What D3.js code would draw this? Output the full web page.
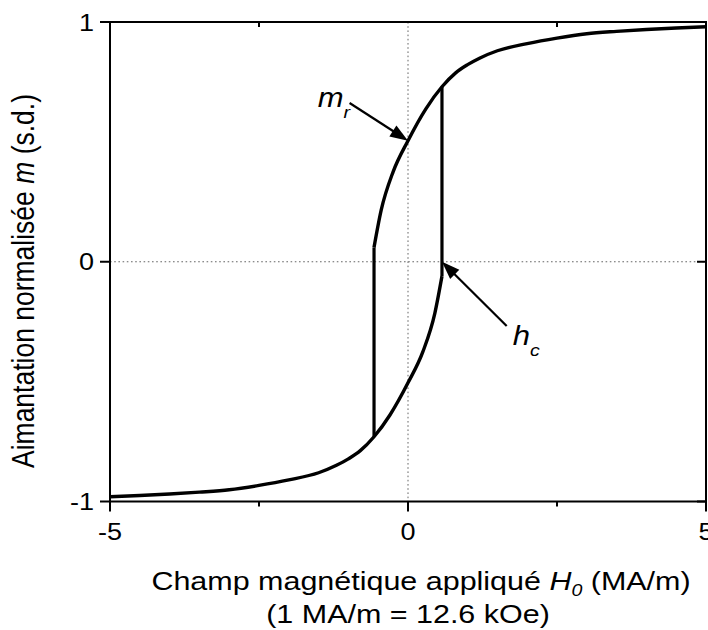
<!DOCTYPE html>
<html><head><meta charset="utf-8">
<script src="https://cdn.jsdelivr.net/npm/d3@7"></script>
<style>html,body{margin:0;padding:0;background:#fff;} svg{display:block;} text{font-family:"Liberation Sans",Arial,sans-serif;fill:#000;}</style>
</head><body>
<script>
// Descending branch (coming from +saturation)
const upperH = [5, 4.5, 4, 3.5, 3, 2.5, 2, 1.5, 1.2, 1.0, 0.8, 0.57, 0.3, 0, -0.25, -0.45, -0.57];
const upperM = [0.980, 0.975, 0.969, 0.961, 0.951, 0.933, 0.910, 0.880, 0.849, 0.822, 0.788, 0.730, 0.638, 0.505, 0.375, 0.215, 0.06];
// Ascending branch (coming from -saturation)
const lowerH = [-5, -4.5, -4, -3.5, -3, -2.5, -2, -1.5, -1.2, -1.0, -0.8, -0.57, -0.3, 0, 0.25, 0.45, 0.57];
const lowerM = [-0.980, -0.975, -0.969, -0.961, -0.951, -0.933, -0.910, -0.880, -0.849, -0.822, -0.788, -0.730, -0.638, -0.505, -0.375, -0.215, -0.06];
// Switching jumps
const jumpH = [-0.57, 0.57];
const jumpFrom = [0.06, -0.06];
const jumpTo = [-0.730, 0.730];
const xTicks = [-5, 0, 5];
const xMinor = [-2.5, 2.5];
const yTicks = [-1, 0, 1];
const annLabel = ["m", "h"];
const annSub = ["r", "c"];
const annTip = [[0, 0.505], [0.57, 0]];
const annTail = [[-0.98, 0.662], [1.656, -0.268]];
const annText = [[-1.515, 0.645], [1.757, -0.349]];

const W = 708, H = 630, SX = 1.15;
const svg = d3.select("body").append("svg").attr("width", W).attr("height", H);
const x = d3.scaleLinear().domain([-5, 5]).range([110, 706]);
const y = d3.scaleLinear().domain([-1, 1]).range([501.5, 22]);

function stext(g, px, py, anchor, size) {
  return g.append("text").attr("transform", `translate(${px},${py}) scale(${SX},1)`)
    .attr("text-anchor", anchor).attr("font-size", size);
}

// dotted zero lines
svg.append("line").attr("x1", x(0)).attr("x2", x(0)).attr("y1", y(1)).attr("y2", y(-1))
  .attr("stroke", "#666").attr("stroke-width", 1).attr("stroke-dasharray", "1.6,2.6");
svg.append("line").attr("x1", x(-5)).attr("x2", x(5)).attr("y1", y(0)).attr("y2", y(0))
  .attr("stroke", "#666").attr("stroke-width", 1).attr("stroke-dasharray", "1.6,2.6");

// curves
const line = d3.line().x(d => x(d[0])).y(d => y(d[1])).curve(d3.curveMonotoneX);
const up = upperH.map((h, i) => [h, upperM[i]]).reverse();
const lo = lowerH.map((h, i) => [h, lowerM[i]]);
[up, lo].forEach(d => svg.append("path").attr("d", line(d)).attr("fill", "none")
  .attr("stroke", "#000").attr("stroke-width", 3.4).attr("stroke-linejoin", "round"));
jumpH.forEach((h, i) => svg.append("line").attr("x1", x(h)).attr("x2", x(h))
  .attr("y1", y(jumpFrom[i])).attr("y2", y(jumpTo[i])).attr("stroke", "#000").attr("stroke-width", 3.2));

// frame
svg.append("rect").attr("x", x(-5)).attr("y", y(1)).attr("width", x(5) - x(-5)).attr("height", y(-1) - y(1))
  .attr("fill", "none").attr("stroke", "#000").attr("stroke-width", 2);

// ticks
const tk = svg.append("g").attr("stroke", "#000").attr("stroke-width", 2);
xTicks.forEach(t => tk.append("line").attr("x1", x(t)).attr("x2", x(t)).attr("y1", y(-1)).attr("y2", y(-1) + 10));
xMinor.forEach(t => {
  tk.append("line").attr("x1", x(t)).attr("x2", x(t)).attr("y1", y(-1)).attr("y2", y(-1) + 5);
  tk.append("line").attr("x1", x(t)).attr("x2", x(t)).attr("y1", y(1)).attr("y2", y(1) + 5);
});
yTicks.forEach(t => {
  tk.append("line").attr("x1", x(-5) - 10).attr("x2", x(-5)).attr("y1", y(t)).attr("y2", y(t));
  tk.append("line").attr("x1", x(5) - 9).attr("x2", x(5)).attr("y1", y(t)).attr("y2", y(t));
});

// tick labels
xTicks.forEach(t => stext(svg, x(t), 540, "middle", 23.5).text(d3.format("")(t).replace("−", "-")));
yTicks.forEach(t => stext(svg, 94, y(t) + 8.5, "end", 23.5).text(d3.format("")(t).replace("−", "-")));

// axis titles
const xt = stext(svg, 421, 590, "middle", 26.5);
xt.append("tspan").text("Champ magnétique appliqué ");
xt.append("tspan").attr("font-style", "italic").text("H");
xt.append("tspan").attr("font-style", "italic").attr("font-size", 17).attr("dy", 6).text("0");
xt.append("tspan").attr("dy", -6).text(" (MA/m)");
stext(svg, 408, 623, "middle", 26.5).text("(1 MA/m = 12.6 kOe)");

const yt = svg.append("text").attr("transform", `translate(33.5,281) scale(${SX},1) rotate(-90)`)
  .attr("text-anchor", "middle").attr("font-size", 26.5);
yt.append("tspan").text("Aimantation normalisée ");
yt.append("tspan").attr("font-style", "italic").text("m");
yt.append("tspan").text(" (s.d.)");

// annotations
annLabel.forEach((lab, i) => {
  const tx = x(annText[i][0]), ty = y(annText[i][1]);
  const t = stext(svg, tx, ty, "start", 27);
  t.append("tspan").attr("font-style", "italic").text(lab);
  t.append("tspan").attr("font-style", "italic").attr("font-size", 17).attr("dy", 11).text(annSub[i]);
  const x0 = x(annTail[i][0]), y0 = y(annTail[i][1]);
  const x1 = x(annTip[i][0]), y1 = y(annTip[i][1]);
  const dx = x1 - x0, dy = y1 - y0, L = Math.hypot(dx, dy), ux = dx / L, uy = dy / L;
  const hl = 18, hw = 6.5;
  const bx = x1 - ux * hl, by = y1 - uy * hl;
  svg.append("line").attr("x1", x0).attr("y1", y0).attr("x2", bx + ux * 2).attr("y2", by + uy * 2)
    .attr("stroke", "#000").attr("stroke-width", 2.2);
  svg.append("path").attr("d", `M${x1},${y1}L${bx - uy * hw},${by + ux * hw}L${bx + uy * hw},${by - ux * hw}Z`)
    .attr("fill", "#000");
});
</script>
</body></html>
